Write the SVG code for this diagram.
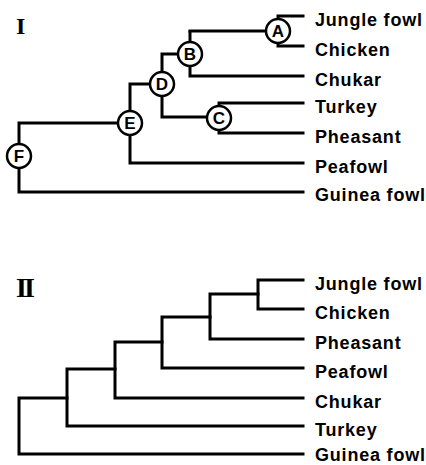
<svg xmlns="http://www.w3.org/2000/svg" width="426" height="465" viewBox="0 0 426 465">
<style>
.br{fill:none;stroke:#000;stroke-width:3;stroke-linecap:square;stroke-linejoin:miter}
.lbl{font-family:"Liberation Sans",Arial,sans-serif;font-weight:bold;font-size:18px;letter-spacing:0.8px;fill:#000}
.nd circle{fill:#fff;stroke:#000;stroke-width:2.5}
.nd text{font-family:"Liberation Sans",Arial,sans-serif;font-weight:bold;font-size:17px;text-anchor:middle;fill:#000}
.num{font-family:"Liberation Serif","Times New Roman",serif;font-weight:bold;fill:#000}
</style>
<rect width="426" height="465" fill="#fff"/>
<text class="num" x="16" y="34" font-size="24">I</text>
<text class="num" x="16" y="297" font-size="28" letter-spacing="-3">II</text>

<g id="connectors">
  <path class="br" d="M303,16 H278 V46 H303"/>
  <path class="br" d="M278,31 H190"/>
  <path class="br" d="M190,32 V76 H303"/>
  <path class="br" d="M303,103 H219 V133 H303"/>
  <path class="br" d="M190,54 H162 V117 H219"/>
  <path class="br" d="M162,84 H130 V163 H303"/>
  <path class="br" d="M130,123 H19 V192 H303"/>
  <path class="br" d="M303,280 H258 V309 H303"/>
  <path class="br" d="M258,294 H210 V339 H303"/>
  <path class="br" d="M210,317 H162 V368 H303"/>
  <path class="br" d="M162,342 H115 V398 H303"/>
  <path class="br" d="M115,369 H67 V426 H303"/>
  <path class="br" d="M67,398 H19 V454 H303"/>
</g>

<g id="nodeA" class="nd"><circle cx="278" cy="31" r="12"/><text x="278" y="37">A</text></g>
<g id="nodeB" class="nd"><circle cx="190" cy="54" r="12"/><text x="190" y="60">B</text></g>
<g id="nodeC" class="nd"><circle cx="219" cy="118" r="12"/><text x="219" y="124">C</text></g>
<g id="nodeD" class="nd"><circle cx="162" cy="84" r="12"/><text x="162" y="90">D</text></g>
<g id="nodeE" class="nd"><circle cx="130" cy="123" r="12"/><text x="130" y="129">E</text></g>
<g id="nodeF" class="nd"><circle cx="19" cy="156" r="12"/><text x="19" y="162">F</text></g>

<g id="labels1">
  <text class="lbl" x="315" y="26">Jungle fowl</text>
  <text class="lbl" x="315" y="56">Chicken</text>
  <text class="lbl" x="315" y="86">Chukar</text>
  <text class="lbl" x="315" y="113">Turkey</text>
  <text class="lbl" x="315" y="143">Pheasant</text>
  <text class="lbl" x="315" y="173">Peafowl</text>
  <text class="lbl" x="315" y="201">Guinea fowl</text>
</g>
<g id="labels2">
  <text class="lbl" x="315" y="290">Jungle fowl</text>
  <text class="lbl" x="315" y="319">Chicken</text>
  <text class="lbl" x="315" y="349">Pheasant</text>
  <text class="lbl" x="315" y="378">Peafowl</text>
  <text class="lbl" x="315" y="408">Chukar</text>
  <text class="lbl" x="315" y="436">Turkey</text>
  <text class="lbl" x="315" y="461">Guinea fowl</text>
</g>
</svg>
